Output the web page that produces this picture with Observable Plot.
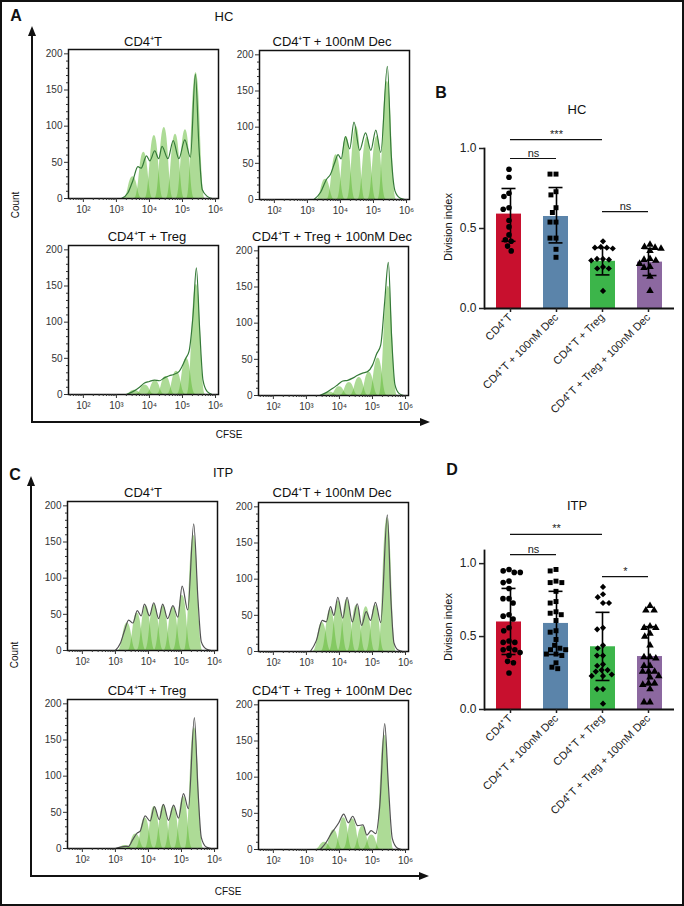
<!DOCTYPE html>
<html><head><meta charset="utf-8">
<script src="https://cdn.jsdelivr.net/npm/d3@7"></script>
<script src="https://cdn.jsdelivr.net/npm/@observablehq/plot@0.6"></script>
<style>
html,body{margin:0;padding:0;background:#fff;}
#fig{position:relative;width:684px;height:906px;overflow:hidden;font-family:"Liberation Sans",Arial,sans-serif;color:#111;background:#fff;}
.t{position:absolute;transform:translate(-50%,-50%);white-space:nowrap;line-height:1;}
#border{position:absolute;left:0;top:0;width:684px;height:906px;box-sizing:border-box;border:2px solid #111;pointer-events:none;}
</style></head><body><div id="fig"></div>
<script>
// ---------------- DATA ----------------
// Histogram panels: generation peaks [log10 CFSE, count] and raw curve [log10 CFSE, count]
const hcCD4Gens = [[3.50,30],[3.83,64],[4.15,87],[4.45,98],[4.79,89],[5.09,95],[5.41,174]];
const hcCD4Raw = [[3.15,0],[3.35,8],[3.5,25],[3.65,44],[3.75,42],[3.91,59],[4.01,52],[4.16,66],[4.28,55],[4.38,72],[4.56,55],[4.72,80],[4.89,55],[5.07,81],[5.24,57],[5.39,172],[5.5,70],[5.6,12],[5.75,3],[5.9,0]];
const hcDecGens = [[3.55,28],[3.87,62],[4.18,87],[4.48,101],[4.81,86],[5.11,87],[5.42,163]];
const hcDecRaw = [[3.2,0],[3.4,10],[3.58,28],[3.7,35],[3.82,50],[3.93,62],[4.02,56],[4.15,87],[4.28,70],[4.41,107],[4.58,68],[4.76,92],[4.92,68],[5.07,96],[5.22,65],[5.42,184],[5.54,60],[5.65,12],[5.8,2],[5.95,0]];
const hcTregGens = [[3.55,6],[3.87,13],[4.18,19],[4.5,25],[4.82,32],[5.12,50],[5.42,152]];
const hcTregRaw = [[3.3,0],[3.5,4],[3.7,10],[3.85,16],[4.0,18],[4.15,20],[4.3,19],[4.45,23],[4.6,26],[4.75,28],[4.9,32],[5.0,40],[5.1,50],[5.2,60],[5.32,110],[5.42,175],[5.52,90],[5.62,20],[5.75,4],[5.9,0]];
const hcTregDecGens = [[3.7,5],[4.0,12],[4.3,18],[4.6,25],[4.9,32],[5.17,52],[5.48,151]];
const hcTregDecRaw = [[3.4,0],[3.6,4],[3.8,10],[3.95,15],[4.1,20],[4.25,21],[4.4,24],[4.55,28],[4.7,31],[4.85,33],[5.0,42],[5.12,57],[5.25,70],[5.37,130],[5.48,184],[5.58,80],[5.68,15],[5.8,3],[5.95,0]];
const itpCD4Gens = [[3.36,38],[3.66,52],[3.93,62],[4.18,64],[4.45,62],[4.75,60],[5.03,76],[5.37,159]];
const itpCD4Raw = [[3.0,0],[3.15,10],[3.28,28],[3.4,42],[3.53,38],[3.66,55],[3.78,48],[3.88,64],[4.03,48],[4.16,66],[4.31,44],[4.43,64],[4.58,44],[4.74,62],[4.89,46],[5.02,89],[5.19,56],[5.37,175],[5.5,70],[5.6,12],[5.75,2],[5.9,0]];
const itpDecGens = [[3.48,40],[3.73,58],[3.97,70],[4.23,72],[4.52,64],[4.81,62],[5.09,64],[5.45,185]];
const itpDecRaw = [[3.12,0],[3.3,15],[3.48,43],[3.6,41],[3.73,62],[3.83,50],[3.95,75],[4.1,46],[4.23,75],[4.39,41],[4.54,66],[4.67,36],[4.81,55],[4.94,43],[5.09,68],[5.25,40],[5.45,189],[5.56,70],[5.65,12],[5.78,2],[5.92,0]];
const itpTregGens = [[3.3,4],[3.62,20],[3.9,42],[4.18,58],[4.46,60],[4.76,58],[5.06,72],[5.39,167]];
const itpTregRaw = [[3.0,0],[3.15,2],[3.3,3],[3.4,3],[3.52,12],[3.65,21],[3.75,24],[3.9,45],[4.05,38],[4.18,58],[4.33,40],[4.45,61],[4.61,39],[4.76,60],[4.91,42],[5.06,76],[5.21,55],[5.39,181],[5.5,80],[5.6,15],[5.75,2],[5.9,0]];
const itpTregDecGens = [[3.55,10],[3.83,27],[4.13,44],[4.4,42],[4.7,32],[4.98,20],[5.37,158]];
const itpTregDecRaw = [[3.42,0],[3.6,10],[3.75,22],[3.83,27],[3.98,37],[4.13,49],[4.27,37],[4.4,46],[4.55,33],[4.71,34],[4.83,20],[4.96,26],[5.1,22],[5.22,60],[5.37,174],[5.48,90],[5.6,15],[5.75,2],[5.88,0]];

const xTickValues = [1e2, 1e3, 1e4, 1e5, 1e6];
const xTickLabels = ["10²", "10³", "10⁴", "10⁵", "10⁶"];
const yTickValues = [0, 50, 100, 150, 200];

// Bar charts
const groups = ["CD4⁺T", "CD4⁺T + 100nM Dec", "CD4⁺T + Treg", "CD4⁺T + Treg + 100nM Dec"];
const hcMean = [0.59, 0.575, 0.295, 0.29];
const hcLow  = [0.42, 0.41, 0.21, 0.206];
const hcHigh = [0.75, 0.756, 0.38, 0.375];
const hcPoints = [
  [0.87, 0.82, 0.72, 0.70, 0.63, 0.62, 0.55, 0.51, 0.46, 0.43, 0.42, 0.39, 0.36],
  [0.84, 0.84, 0.73, 0.71, 0.63, 0.60, 0.54, 0.54, 0.44, 0.44, 0.37, 0.32],
  [0.42, 0.385, 0.38, 0.38, 0.375, 0.31, 0.31, 0.305, 0.30, 0.26, 0.25, 0.25, 0.11],
  [0.40, 0.385, 0.38, 0.375, 0.36, 0.31, 0.305, 0.30, 0.28, 0.26, 0.255, 0.20, 0.11]
];
const itpMean = [0.60, 0.59, 0.43, 0.363];
const itpLow  = [0.377, 0.377, 0.199, 0.171];
const itpHigh = [0.83, 0.81, 0.666, 0.568];
const itpPoints = [
  [0.96, 0.95, 0.94, 0.94, 0.88, 0.87, 0.83, 0.76, 0.76, 0.73, 0.65, 0.64, 0.62, 0.56, 0.54, 0.47, 0.46, 0.46, 0.42, 0.41, 0.41, 0.39, 0.37, 0.33, 0.32, 0.25],
  [0.96, 0.95, 0.88, 0.87, 0.87, 0.81, 0.74, 0.73, 0.67, 0.66, 0.65, 0.61, 0.54, 0.53, 0.48, 0.44, 0.42, 0.41, 0.41, 0.38, 0.38, 0.37, 0.32, 0.29, 0.28],
  [0.84, 0.79, 0.77, 0.73, 0.73, 0.56, 0.55, 0.44, 0.42, 0.37, 0.37, 0.31, 0.30, 0.27, 0.27, 0.26, 0.24, 0.23, 0.23, 0.14, 0.14, 0.04],
  [0.71, 0.68, 0.68, 0.57, 0.56, 0.56, 0.52, 0.50, 0.44, 0.36, 0.36, 0.35, 0.30, 0.30, 0.26, 0.26, 0.26, 0.23, 0.22, 0.18, 0.18, 0.17, 0.14, 0.05, 0.05]
];
const hcBrackets = [
  {from: 0, to: 2, y: 1.056, label: "***"},
  {from: 0, to: 1, y: 0.9375, label: "ns"},
  {from: 2, to: 3, y: 0.606, label: "ns"}
];
const itpBrackets = [
  {from: 0, to: 2, y: 1.20, label: "**"},
  {from: 0, to: 1, y: 1.062, label: "ns"},
  {from: 2, to: 3, y: 0.911, label: "*"}
];

// ---------------- STYLE / LAYOUT ----------------
const FONT = '"Liberation Sans", Arial, sans-serif';
const NARROW = '"Liberation Sans Narrow", "Liberation Sans", Arial, sans-serif';
const HW = 0.28;          // half-width of each generation peak (decades)
const HML = 30, HMR = 8, HMT = 4, HMB = 24, HFW = 150, HFH = 149;
const X_DOMAIN = [10 ** 1.55, 10 ** 6.09];
const barColors = ["#c8102e", "#5b84aa", "#3cb54a", "#8c68a0"];
const barSymbols = ["circle", "square", "diamond2", "triangle"];

const fig = document.getElementById("fig");
function addText(txt, x, y, style = {}) {
  const d = document.createElement("div");
  d.className = "t"; d.textContent = txt;
  d.style.left = x + "px"; d.style.top = y + "px";
  Object.assign(d.style, style);
  fig.appendChild(d); return d;
}
function place(node, left, top) {
  node.style.position = "absolute";
  node.style.left = left + "px"; node.style.top = top + "px";
  fig.appendChild(node);
}

const xMinor = d3.range(1, 6).flatMap(k => d3.range(2, 10).map(m => m * 10 ** k))
  .filter(v => v > X_DOMAIN[0] && v < X_DOMAIN[1]);
const yMinor = d3.range(0, 201, 10).filter(v => v % 50 !== 0);

function histogram(gens, rawPts, lineColor) {
  const bells = gens.flatMap(([c, h], i) =>
    [[c - HW, 0], [c, h], [c + HW, 0]].map(([l, v]) => ({g: i, x: 10 ** l, y: v})));
  const raw = rawPts.map(([l, v]) => ({x: 10 ** l, y: v}));
  return Plot.plot({
    width: HML + HFW + HMR, height: HMT + HFH + HMB,
    marginLeft: HML, marginRight: HMR, marginTop: HMT, marginBottom: HMB,
    x: {type: "log", domain: X_DOMAIN, label: null},
    y: {domain: [0, 206], label: null},
    style: {fontFamily: FONT, fontSize: "10px", background: "transparent", overflow: "visible", color: "#333"},
    marks: [
      Plot.areaY(bells, {x: "x", y1: 0, y2: "y", z: "g", curve: "bump-x", fill: "#5cb82e", fillOpacity: 0.5}),
      Plot.line(raw, {x: "x", y: "y", curve: "monotone-x", stroke: lineColor, strokeWidth: 1.2}),
      Plot.frame({stroke: "#111", strokeWidth: 1.5}),
      Plot.axisY({ticks: yTickValues, tickSize: 4, tickPadding: 2, label: null}),
      Plot.axisY({ticks: yMinor, tickSize: 2, tickFormat: () => "", label: null}),
      Plot.axisX({ticks: xTickValues, tickSize: 4, tickPadding: 3, label: null,
        tickFormat: v => xTickLabels[xTickValues.indexOf(v)]}),
      Plot.axisX({ticks: xMinor, tickSize: 2, tickFormat: () => "", label: null})
    ]
  });
}

function barChart(means, lows, highs, pts, brackets, yMax, marginTop, frameH) {
  const W = 240, ML = 40, MR = 10, MB = 115;
  const H = marginTop + frameH + MB;
  const PI = 0.47, PO = 0.25;
  const summary = groups.map((g, i) => ({group: g, mean: means[i], lo: lows[i], hi: highs[i]}));
  const points = groups.flatMap((g, i) => pts[i].map(v => ({group: g, value: v})));
  const common = {width: W, height: H, marginLeft: ML, marginRight: MR, marginTop, marginBottom: MB,
    style: {fontFamily: FONT, fontSize: "11px", background: "transparent", overflow: "visible", color: "#222"}};
  const main = Plot.plot({
    ...common,
    fx: {domain: groups, paddingInner: PI, paddingOuter: PO, axis: null, label: null},
    y: {domain: [0, yMax], axis: null},
    color: {domain: groups, range: barColors},
    symbol: {domain: groups, range: barSymbols},
    marks: [
      Plot.barY(summary, {fx: "group", y: "mean", fill: "group"}),
      Plot.dot(points, Plot.dodgeX({anchor: "middle", padding: 0.4},
        {fx: "group", y: "value", r: 2.8, symbol: "group", fill: "#000", stroke: "none"})),
      Plot.tickY(summary, {fx: "group", y: "hi", stroke: "#000", strokeWidth: 1.6, insetLeft: 5.5, insetRight: 5.5}),
      Plot.tickY(summary, {fx: "group", y: "lo", stroke: "#000", strokeWidth: 1.6, insetLeft: 5.5, insetRight: 5.5})
    ]
  });
  // overlay: axes, error-bar stems and significance brackets, on a point scale that also holds the midpoints
  const xDomain = groups.flatMap((g, i) => i < groups.length - 1 ? [g, g + "|" + groups[i + 1]] : [g]);
  const midKey = (a, b) => ((a + b) % 2 === 0) ? groups[(a + b) / 2] : groups[(a + b - 1) / 2] + "|" + groups[(a + b + 1) / 2];
  const br = brackets.map(b => ({x1: groups[b.from], x2: groups[b.to], mid: midKey(b.from, b.to), y: b.y, label: b.label}));
  const overlay = Plot.plot({
    ...common,
    x: {type: "point", domain: xDomain, padding: 2 * (PO + (1 - PI) / 2), label: null},
    y: {domain: [0, yMax], label: null},
    marks: [
      Plot.ruleX(summary, {x: "group", y1: "lo", y2: "hi", stroke: "#000", strokeWidth: 1.6}),
      Plot.ruleY([0], {stroke: "#111", strokeWidth: 1.8}),
      Plot.frame({anchor: "left", stroke: "#111", strokeWidth: 1.8}),
      Plot.axisY({ticks: [0, 0.5, 1], tickFormat: d3.format(".1f"), tickSize: 5, tickPadding: 3, fontSize: 12, strokeWidth: 1.5, label: null}),
      Plot.axisX({ticks: groups, tickRotate: -45, tickSize: 4, tickPadding: 3, fontSize: 11, strokeWidth: 1.5, label: null}),
      Plot.ruleY(br, {x1: "x1", x2: "x2", y: "y", stroke: "#111", strokeWidth: 1.2}),
      Plot.text(br, {x: "mid", y: "y", text: "label", lineAnchor: "bottom", dy: -2, fontSize: 11, fill: "#222"})
    ]
  });
  return [main, overlay];
}

// ---------------- PANEL A ----------------
addText("A", 16, 16, {fontWeight: "bold", fontSize: "16px"});
addText("HC", 224, 16, {fontSize: "13px"});
addText("CD4⁺T", 143, 41, {fontSize: "13px"});
addText("CD4⁺T + 100nM Dec", 332, 41, {fontSize: "13px"});
addText("CD4⁺T + Treg", 147, 236, {fontSize: "13px"});
addText("CD4⁺T + Treg + 100nM Dec", 332, 236, {fontSize: "13px"});
addText("Count", 16, 205, {fontSize: "10px", fontFamily: NARROW, transform: "translate(-50%,-50%) rotate(-90deg)"});
addText("CFSE", 229, 435, {fontSize: "10px", fontFamily: NARROW});
const lineA = "#357a38";
place(histogram(hcCD4Gens, hcCD4Raw, lineA), 68 - HML, 49 - HMT);
place(histogram(hcDecGens, hcDecRaw, lineA), 259 - HML, 50 - HMT);
place(histogram(hcTregGens, hcTregRaw, lineA), 68 - HML, 245 - HMT);
place(histogram(hcTregDecGens, hcTregDecRaw, lineA), 258 - HML, 246 - HMT);

// ---------------- PANEL C ----------------
addText("C", 15, 475, {fontWeight: "bold", fontSize: "16px"});
addText("ITP", 223, 472, {fontSize: "13px"});
addText("CD4⁺T", 143, 492, {fontSize: "13px"});
addText("CD4⁺T + 100nM Dec", 332, 492, {fontSize: "13px"});
addText("CD4⁺T + Treg", 147, 690, {fontSize: "13px"});
addText("CD4⁺T + Treg + 100nM Dec", 332, 690, {fontSize: "13px"});
addText("Count", 15, 655, {fontSize: "10px", fontFamily: NARROW, transform: "translate(-50%,-50%) rotate(-90deg)"});
addText("CFSE", 228, 892, {fontSize: "10px", fontFamily: NARROW});
const lineC = "#525252";
place(histogram(itpCD4Gens, itpCD4Raw, lineC), 67 - HML, 501 - HMT);
place(histogram(itpDecGens, itpDecRaw, lineC), 258 - HML, 502 - HMT);
place(histogram(itpTregGens, itpTregRaw, lineC), 67 - HML, 699 - HMT);
place(histogram(itpTregDecGens, itpTregDecRaw, lineC), 258 - HML, 700 - HMT);

// axis arrows of the histogram blocks
const NS = "http://www.w3.org/2000/svg";
const arrows = document.createElementNS(NS, "svg");
arrows.setAttribute("width", 684); arrows.setAttribute("height", 906);
arrows.style.position = "absolute"; arrows.style.left = "0px"; arrows.style.top = "0px"; arrows.style.pointerEvents = "none";
arrows.innerHTML = `
  <g stroke="#111" stroke-width="2" fill="none">
    <path d="M32,34 V422 H421"/>
    <path d="M31,484 V876 H420"/>
  </g>
  <g fill="#111">
    <path d="M32,26 L28,36 L36,36 Z"/>
    <path d="M430,422 L420,418 L420,426 Z"/>
    <path d="M31,476 L27,486 L35,486 Z"/>
    <path d="M429,876 L419,872 L419,880 Z"/>
  </g>`;
fig.appendChild(arrows);

// ---------------- PANEL B ----------------
addText("B", 441, 93, {fontWeight: "bold", fontSize: "16px"});
addText("HC", 577, 109, {fontSize: "13px"});
addText("Division index", 448, 227, {fontSize: "11px", fontFamily: NARROW, transform: "translate(-50%,-50%) rotate(-90deg)"});
const [bMain, bOver] = barChart(hcMean, hcLow, hcHigh, hcPoints, hcBrackets, 1.0, 30, 160);
place(bMain, 444, 118);
place(bOver, 444, 118);

// ---------------- PANEL D ----------------
addText("D", 452, 470, {fontWeight: "bold", fontSize: "16px"});
addText("ITP", 577, 505, {fontSize: "13px"});
addText("Division index", 448, 627, {fontSize: "11px", fontFamily: NARROW, transform: "translate(-50%,-50%) rotate(-90deg)"});
const [dMain, dOver] = barChart(itpMean, itpLow, itpHigh, itpPoints, itpBrackets, 1.09, 35, 159);
place(dMain, 444, 515);
place(dOver, 444, 515);

const border = document.createElement("div");
border.id = "border";
fig.appendChild(border);
</script></body></html>
